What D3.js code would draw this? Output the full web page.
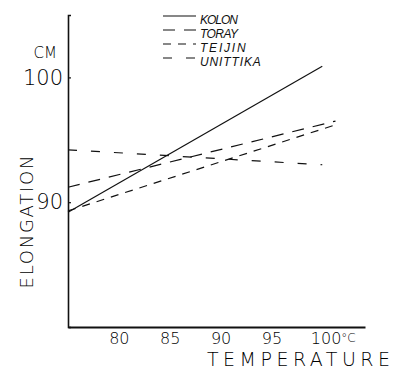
<!DOCTYPE html>
<html>
<head>
<meta charset="utf-8">
<script src="https://cdn.jsdelivr.net/npm/d3@7"></script>
<style>
  body { margin: 0; background: #fff; }
  svg { display: block; }
  .lbl { font-family: "DejaVu Sans", sans-serif; font-weight: 200; fill: #000; }
  .leg { font-family: "Liberation Sans", Arial, sans-serif; font-style: italic; fill: #111; }
</style>
</head>
<body>
<div id="chart"></div>
<script>
// data (elongation in cm vs temperature in degC)
const seriesNames = ["KOLON", "TORAY", "TEIJIN", "UNITTIKA"];
const kolonTemp = [75, 100],   kolonElong = [89.2, 100.9];
const torayTemp = [75, 101.3], torayElong = [91.2, 96.5];
const teijinTemp = [75, 101.3], teijinElong = [89.3, 96.2];
const unitikaTemp = [75, 100], unitikaElong = [94.2, 93.0];
const xTicks = [80, 85, 90, 95, 100];
const yTicks = [90, 100];

const width = 393, height = 374;
const dashes = [null, "12,9", "8,7", "9,14"];

const svg = d3.select("#chart").append("svg")
  .attr("width", width)
  .attr("height", height);

const x = d3.scaleLinear().domain([75, 104.2]).range([68, 365]);
const y = d3.scaleLinear().domain([80, 105]).range([327, 15]);

// axes
const xAxis = svg.append("g")
  .attr("transform", `translate(0, ${y(80)})`)
  .call(d3.axisBottom(x).tickValues(xTicks).tickSize(0).tickPadding(5)
    .tickFormat(d => d));
xAxis.select(".domain").attr("stroke", "#111").attr("stroke-width", 2);
xAxis.selectAll("text")
  .attr("class", "lbl")
  .attr("font-size", 16)
  .attr("dy", "0.72em")
  .attr("fill", null);
// the last label carries the unit
xAxis.selectAll(".tick").filter(d => d === 100).select("text")
  .attr("text-anchor", "start")
  .attr("dx", -12)
  .append("tspan").attr("font-size", 12).attr("dy", "-0.1em").text("°C");

const yAxis = svg.append("g")
  .attr("transform", `translate(${x(75)}, 0)`)
  .call(d3.axisLeft(y).tickValues(yTicks).tickSize(-3).tickPadding(5));
yAxis.select(".domain").attr("stroke", "#111").attr("stroke-width", 1.6);
yAxis.selectAll("line").attr("stroke", "#111").attr("stroke-width", 1.2);
yAxis.selectAll("text")
  .attr("class", "lbl")
  .attr("font-size", 21)
  .attr("fill", null);

// unit above y labels
svg.append("text").attr("class", "lbl")
  .attr("x", 57).attr("y", 58)
  .attr("text-anchor", "end")
  .attr("font-size", 15)
  .text("CM");

// axis titles
svg.append("text").attr("class", "lbl")
  .attr("transform", `translate(33, 222) rotate(-90)`)
  .attr("text-anchor", "middle")
  .attr("font-size", 18)
  .attr("textLength", 133)
  .text("ELONGATION");

svg.append("text").attr("class", "lbl")
  .attr("x", 207).attr("y", 366)
  .attr("font-size", 19)
  .attr("textLength", 183)
  .text("TEMPERATURE");

// lines
const series = [
  d3.zip(kolonTemp, kolonElong),
  d3.zip(torayTemp, torayElong),
  d3.zip(teijinTemp, teijinElong),
  d3.zip(unitikaTemp, unitikaElong)
];

const line = d3.line()
  .x(d => x(d[0]))
  .y(d => y(d[1]));

svg.append("g").selectAll("path")
  .data(series)
  .join("path")
  .attr("d", line)
  .attr("fill", "none")
  .attr("stroke", "#111")
  .attr("stroke-width", 1.2)
  .attr("stroke-dasharray", (d, i) => dashes[i]);

// legend
const legend = svg.append("g").attr("transform", "translate(163, 16)");
const rows = legend.selectAll("g")
  .data(seriesNames)
  .join("g")
  .attr("transform", (d, i) => `translate(0, ${i * 14})`);
rows.append("line")
  .attr("x1", 0).attr("x2", 33)
  .attr("stroke", "#111")
  .attr("stroke-width", 1.2)
  .attr("stroke-dasharray", (d, i) => dashes[i]);
rows.append("text")
  .attr("class", "leg")
  .attr("x", 37).attr("y", 8)
  .attr("font-size", 12)
  .attr("textLength", d => d.length * 7.6)
  .text(d => d);
</script>
</body>
</html>
